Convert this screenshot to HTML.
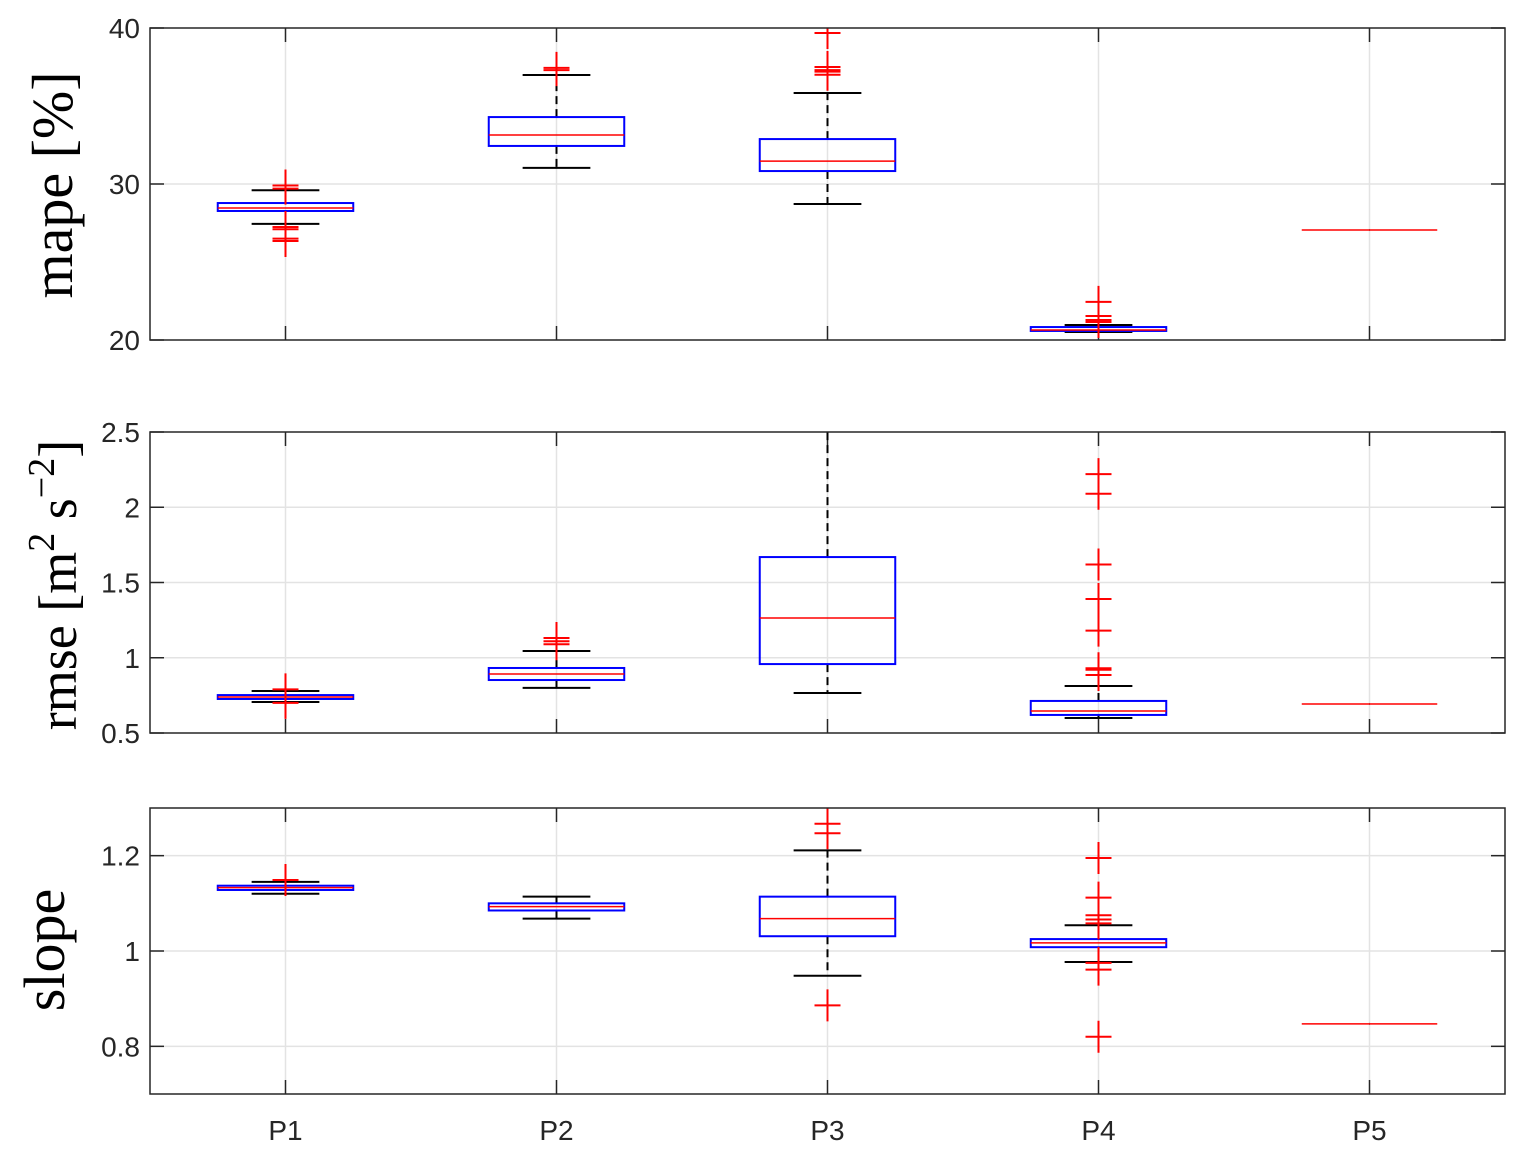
<!DOCTYPE html>
<html><head><meta charset="utf-8"><style>
html,body{margin:0;padding:0;background:#fff;width:1522px;height:1157px;overflow:hidden}
svg{display:block}
</style></head><body>
<svg id="chart" width="1522" height="1157" xmlns="http://www.w3.org/2000/svg"></svg>
<script>
const categories = ["P1","P2","P3","P4","P5"];
// [whiskerLow, q1, median, q3, whiskerHigh]
const mapeStats = [[27.44,28.27,28.46,28.78,29.6],[31.03,32.44,33.14,34.29,36.99],[28.72,30.83,31.47,32.88,35.83],[20.51,20.58,20.64,20.83,20.96],[27.05,27.05,27.05,27.05,27.05]];
const mapeOutliers = [[29.9,29.7,27.24,27.1,26.5,26.35],[37.44,37.3],[39.68,37.5,37.3,37.2,37.0],[22.44,21.54,21.28,21.15],[]];
const rmseStats = [[0.706,0.726,0.739,0.752,0.779],[0.80,0.852,0.892,0.932,1.045],[0.766,0.958,1.264,1.669,2.6],[0.60,0.62,0.646,0.713,0.812],[0.693,0.693,0.693,0.693,0.693]];
const rmseOutliers = [[0.79,0.70],[1.131,1.11,1.09],[],[2.22,2.09,1.62,1.39,1.18,0.93,0.92,0.885],[]];
const slopeStats = [[1.12,1.128,1.133,1.137,1.145],[1.068,1.085,1.093,1.10,1.114],[0.948,1.031,1.068,1.114,1.211],[0.977,1.008,1.017,1.025,1.054],[0.847,0.847,0.847,0.847,0.847]];
const slopeOutliers = [[1.149],[],[1.267,1.247,0.886],[1.195,1.112,1.075,1.066,1.058,0.975,0.961,0.82],[]];
const mapeTicks = [20,30,40];
const rmseTicks = [0.5,1,1.5,2,2.5];
const slopeTicks = [0.8,1,1.2];

const NS="http://www.w3.org/2000/svg";
const svg=document.getElementById('chart');
const X0=150,X1=1505;
function xs(i){return X0+(i+1-0.5)*(X1-X0)/5;}
function mk(tag,attrs,parent){const e=document.createElementNS(NS,tag);for(const k in attrs)e.setAttribute(k,attrs[k]);(parent||svg).appendChild(e);return e;}

const panels=[
 {name:'mape',top:28,bot:340,min:20,max:40,ticks:mapeTicks,stats:mapeStats,out:mapeOutliers,label:'mape [%]',ly:185,lx:72},
 {name:'rmse',top:432,bot:733,min:0.5,max:2.5,ticks:rmseTicks,stats:rmseStats,out:rmseOutliers,label:'rmse',ly:585,lx:72},
 {name:'slope',top:808,bot:1094,min:0.7,max:1.3,ticks:slopeTicks,stats:slopeStats,out:slopeOutliers,label:'slope',ly:950,lx:64}
];
panels.forEach((p,pi)=>{
 const g=mk('g',{});
 
 
 const ys=v=>p.bot-(v-p.min)*(p.bot-p.top)/(p.max-p.min);
 const cp=mk('clipPath',{id:'clip'+pi},g);
 mk('rect',{x:X0,y:p.top,width:X1-X0,height:p.bot-p.top},cp);
 p.ticks.forEach(t=>{const y=ys(t);if(y>p.top+1&&y<p.bot-1){const l=mk('line',{x1:X0,x2:X1,y1:y,y2:y,stroke:'#e3e3e3','stroke-width':1.5},g);}});
 categories.forEach((c,i)=>{const l=mk('line',{x1:xs(i),x2:xs(i),y1:p.top,y2:p.bot,stroke:'#e3e3e3','stroke-width':1.5},g);});
 p.ticks.forEach(t=>{const y=ys(t);
  mk('line',{x1:X0,x2:X0+14,y1:y,y2:y,stroke:'#262626','stroke-width':1.5},g);
  mk('line',{x1:X1-14,x2:X1,y1:y,y2:y,stroke:'#262626','stroke-width':1.5},g);
  const tx=mk('text',{x:X0-10,y:y+10,'text-anchor':'end','font-family':'Liberation Sans, sans-serif','font-size':28,fill:'#262626'},g);
  tx.textContent=String(t);});
 categories.forEach((c,i)=>{
  mk('line',{x1:xs(i),x2:xs(i),y1:p.top,y2:p.top+14,stroke:'#262626','stroke-width':1.5},g);
  mk('line',{x1:xs(i),x2:xs(i),y1:p.bot-14,y2:p.bot,stroke:'#262626','stroke-width':1.5},g);
 });
 const bg=mk('g',{'clip-path':'url(#clip'+pi+')'},g);
 p.stats.forEach((s,i)=>{
  const x=xs(i),hw=0.25*271,cw=0.125*271;
  const b=mk('g',{},bg);
  mk('line',{x1:x,x2:x,y1:ys(s[3]),y2:ys(s[4]),stroke:'#000','stroke-width':2,'stroke-dasharray':'8,5'},b);
  mk('line',{x1:x,x2:x,y1:ys(s[1]),y2:ys(s[0]),stroke:'#000','stroke-width':2,'stroke-dasharray':'8,5'},b);
  if(s[4]!==s[0]){
   mk('line',{x1:x-cw,x2:x+cw,y1:ys(s[4]),y2:ys(s[4]),stroke:'#000','stroke-width':2},b);
   mk('line',{x1:x-cw,x2:x+cw,y1:ys(s[0]),y2:ys(s[0]),stroke:'#000','stroke-width':2},b);
   mk('rect',{x:x-hw,y:ys(s[3]),width:2*hw,height:ys(s[1])-ys(s[3]),fill:'none',stroke:'#0000ff','stroke-width':2},b);
  }
  mk('line',{x1:x-hw,x2:x+hw,y1:ys(s[2]),y2:ys(s[2]),stroke:'#ff0000','stroke-width':1.5},b);
  p.out[i].forEach(v=>{const y=ys(v);
   const o=mk('path',{d:`M${x-13},${y}H${x+13}M${x},${y-16}V${y+16}`,stroke:'#ff0000','stroke-width':2,fill:'none'},bg);
   });
 });
 const fr=mk('rect',{x:X0,y:p.top,width:X1-X0,height:p.bot-p.top,fill:'none',stroke:'#262626','stroke-width':1.5},g);
 
 const lab=mk('text',{transform:`translate(${p.lx},${p.ly}) rotate(-90)`,'text-anchor':'middle','font-family':'Liberation Serif, serif','font-size':58,fill:'#000'},g);
 
 if(p.name==='rmse'){
  lab.setAttribute('transform','translate(76,585) rotate(-90)');
  lab.setAttribute('font-size','54');
  lab.innerHTML='rmse [m<tspan dy="-22" font-size="38">2</tspan><tspan dy="22"> s</tspan><tspan dy="-22" font-size="38">−2</tspan><tspan dy="22">]</tspan>';
 } else lab.textContent=p.label;
});
categories.forEach((c,i)=>{
 const t=mk('text',{x:xs(i),y:1140,'text-anchor':'middle','font-family':'Liberation Sans, sans-serif','font-size':28,fill:'#262626'});
 t.textContent=c;
});
</script>
</body></html>
